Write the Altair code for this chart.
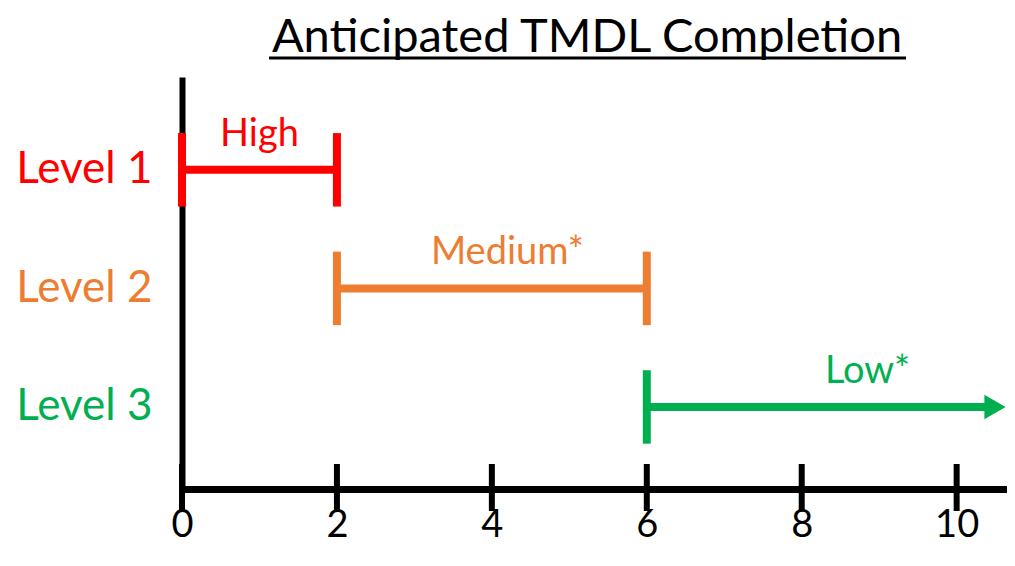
import altair as alt
import pandas as pd

# ---- data ----
title_text = ["Anticipated TMDL Completion"]
levels = [1, 2, 3]
level_colors = ["#FF0000", "#ED7D31", "#00B050"]
bar_start = [0, 2, 6]
bar_end = [2, 6, 10.65]          # level 3 is open-ended (arrow)
open_ended = [False, False, True]
priority = ["High", "Medium*", "Low*"]
priority_x = [1.0, 4.2, 8.85]
x_ticks = [0, 2, 4, 6, 8, 10]
x_max = 10.65

FONT = "Lato"
CAP_HALF = 0.31

bars = pd.DataFrame({"level": levels, "start": bar_start, "end": bar_end,
                     "color": level_colors, "open": open_ended})
caps_rows = []
for lv, s, e, c, o in zip(levels, bar_start, bar_end, level_colors, open_ended):
    caps_rows.append({"level": lv, "x": s, "color": c})
    if not o:
        caps_rows.append({"level": lv, "x": e, "color": c})
caps = pd.DataFrame(caps_rows)
caps["y_lo"] = caps["level"] - CAP_HALF
caps["y_hi"] = caps["level"] + CAP_HALF

labels = pd.DataFrame({"text": priority, "x": priority_x, "level": levels, "color": level_colors})
ticks = pd.DataFrame({"t": x_ticks})
arrow = bars[bars["open"]]
title_df = pd.DataFrame({"title": title_text})

PLOT_W = 825
PLOT_H = 412

xscale = alt.Scale(domain=[0, x_max], nice=False, zero=False)
yscale = alt.Scale(domain=[0.217, 3.692], reverse=True, nice=False, zero=False)

x_axis = alt.Axis(values=x_ticks, title=None, grid=False, ticks=False, tickSize=0,
                  domainColor="black", domainWidth=7, labelFont=FONT, labelFontSize=38,
                  labelColor="black", labelPadding=17, labelFlush=False)
y_axis = alt.Axis(values=levels, title=None, grid=False, ticks=False, tickSize=0,
                  domainColor="black", domainWidth=6, labelFont=FONT, labelFontSize=44,
                  labelPadding=30, labelExpr="'Level ' + datum.value",
                  labelColor={"condition": [{"test": "datum.value == 1", "value": level_colors[0]},
                                            {"test": "datum.value == 2", "value": level_colors[1]}],
                              "value": level_colors[2]})

closed_bars = alt.Chart(bars).transform_filter("!datum.open").mark_rule(strokeWidth=8).encode(
    x=alt.X("start:Q", scale=xscale, axis=x_axis),
    x2="end:Q",
    y=alt.Y("level:Q", scale=yscale, axis=y_axis),
    color=alt.Color("color:N", scale=None),
)
open_bars = alt.Chart(bars).transform_filter("datum.open").mark_rule(strokeWidth=8, x2Offset=-14).encode(
    x=alt.X("start:Q", scale=xscale, axis=x_axis),
    x2="end:Q",
    y=alt.Y("level:Q", scale=yscale, axis=y_axis),
    color=alt.Color("color:N", scale=None),
)
cap_marks = alt.Chart(caps).mark_rule(strokeWidth=8).encode(
    x=alt.X("x:Q", scale=xscale, axis=x_axis),
    y=alt.Y("y_lo:Q", scale=yscale, axis=y_axis),
    y2="y_hi:Q",
    color=alt.Color("color:N", scale=None),
)
arrow_head = alt.Chart(arrow).mark_point(shape="triangle-right", filled=True, opacity=1,
                                         size=600, xOffset=-12).encode(
    x=alt.X("end:Q", scale=xscale, axis=x_axis),
    y=alt.Y("level:Q", scale=yscale, axis=y_axis),
    color=alt.Color("color:N", scale=None),
)
label_marks = alt.Chart(labels).mark_text(font=FONT, fontSize=38, baseline="alphabetic",
                                          align="center", dy=-24).encode(
    x=alt.X("x:Q", scale=xscale, axis=x_axis),
    y=alt.Y("level:Q", scale=yscale, axis=y_axis),
    text="text:N",
    color=alt.Color("color:N", scale=None),
)
tick_marks = alt.Chart(ticks).mark_rule(strokeWidth=6, color="black").encode(
    x=alt.X("t:Q", scale=xscale, axis=x_axis),
    y=alt.value(PLOT_H - 25),
    y2=alt.value(PLOT_H + 22),
)
title_mark = alt.Chart(title_df).mark_text(font=FONT, fontSize=47, baseline="alphabetic",
                                           align="center", color="black").encode(
    text="title:N",
    x=alt.value(405),
    y=alt.value(-25),
)
underline = alt.Chart(title_df).mark_rule(strokeWidth=3, color="black").encode(
    x=alt.value(87),
    x2=alt.value(724),
    y=alt.value(-19),
)

chart = alt.layer(
    tick_marks, closed_bars, open_bars, cap_marks, arrow_head, label_marks, title_mark, underline
).properties(
    width=PLOT_W, height=PLOT_H,
    autosize=alt.AutoSizeParams(type="none"),
    padding={"left": 174, "top": 69, "right": 0, "bottom": 64},
).configure_view(stroke=None)

chart.save("out.html", embed_options={"renderer": "svg", "actions": False})
